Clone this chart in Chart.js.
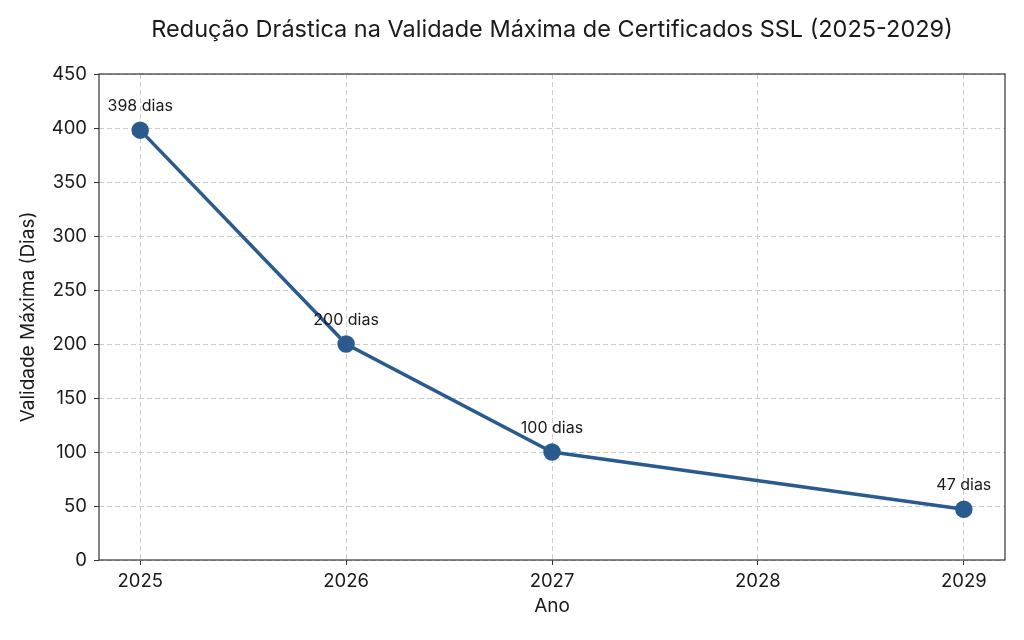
<!DOCTYPE html>
<html>
<head>
<meta charset="utf-8">
<script src="https://cdn.jsdelivr.net/npm/chart.js@4"></script>
<style>
  html, body { margin: 0; padding: 0; background: #fff; }
  #wrap { width: 1024px; height: 640px; }
</style>
</head>
<body>
<div id="wrap"><canvas id="myChart" width="1024" height="640"></canvas></div>
<script>
// dados
const anos = [2025, 2026, 2027, 2029];
const validadeDias = [398, 200, 100, 47];
const rotulos = ["398 dias", "200 dias", "100 dias", "47 dias"];
const anosTicks = [2025, 2026, 2027, 2028, 2029];

const corLinha = '#2a5b8f';
const corTexto = '#1a1a1a';
const fonte = 'Inter, "Open Sans", sans-serif';

// moldura em volta da área do gráfico
const moldura = {
    id: 'moldura',
    afterDraw(chart) {
        const {ctx, chartArea: a} = chart;
        ctx.save();
        ctx.strokeStyle = '#333';
        ctx.lineWidth = 1.2;
        ctx.strokeRect(a.left, a.top, a.right - a.left, a.bottom - a.top);
        ctx.restore();
    }
};

// rótulos acima dos pontos
const rotulosPontos = {
    id: 'rotulosPontos',
    afterDatasetsDraw(chart) {
        const {ctx} = chart;
        const meta = chart.getDatasetMeta(0);
        ctx.save();
        ctx.font = '16px ' + fonte;
        ctx.fillStyle = corTexto;
        ctx.textAlign = 'center';
        ctx.textBaseline = 'middle';
        meta.data.forEach((p, i) => {
            ctx.fillText(rotulos[i], p.x, p.y - 24);
        });
        ctx.restore();
    }
};

const ctx = document.getElementById('myChart').getContext('2d');
new Chart(ctx, {
    type: 'line',
    data: {
        datasets: [{
            data: anos.map((a, i) => ({x: a, y: validadeDias[i]})),
            borderColor: corLinha,
            backgroundColor: corLinha,
            borderWidth: 3.5,
            pointRadius: 7,
            pointBackgroundColor: corLinha,
            pointBorderColor: corLinha,
            tension: 0
        }]
    },
    options: {
        responsive: false,
        animation: false,
        layout: {padding: {left: 0, right: 19, top: 0, bottom: 0}},
        plugins: {
            legend: {display: false},
            tooltip: {enabled: false},
            title: {
                display: true,
                fullSize: false,
                text: 'Redução Drástica na Validade Máxima de Certificados SSL (2025-2029)',
                color: corTexto,
                font: {family: fonte, size: 23.5, weight: 'normal', lineHeight: 1.2},
                padding: {top: 16, bottom: 29.8}
            }
        },
        scales: {
            x: {
                type: 'linear',
                min: 2024.8,
                max: 2029.2,
                afterBuildTicks: s => { s.ticks = anosTicks.map(v => ({value: v})); },
                afterFit: s => { s.height = 80; },
                ticks: {
                    color: corTexto,
                    font: {family: fonte, size: 18.5},
                    padding: 5,
                    callback: v => String(v)
                },
                grid: {color: '#cccccc', lineWidth: 1, tickLength: 5, tickColor: '#333', tickWidth: 1},
                border: {display: false, dash: [5, 3]},
                title: {
                    display: true, text: 'Ano', color: corTexto,
                    font: {family: fonte, size: 19, lineHeight: 1.2},
                    padding: {top: 0, bottom: 22}
                }
            },
            y: {
                min: 0,
                max: 450,
                afterFit: s => { s.width = 99; },
                ticks: {
                    stepSize: 50,
                    color: corTexto,
                    font: {family: fonte, size: 18.5},
                    padding: 7
                },
                grid: {color: '#cccccc', lineWidth: 1, tickLength: 5, tickColor: '#333', tickWidth: 1},
                border: {display: false, dash: [5, 3]},
                title: {
                    display: true, text: 'Validade Máxima (Dias)', color: corTexto,
                    font: {family: fonte, size: 19, lineHeight: 1.2},
                    padding: {top: 17, bottom: 0}
                }
            }
        }
    },
    plugins: [moldura, rotulosPontos]
});
</script>
</body>
</html>
